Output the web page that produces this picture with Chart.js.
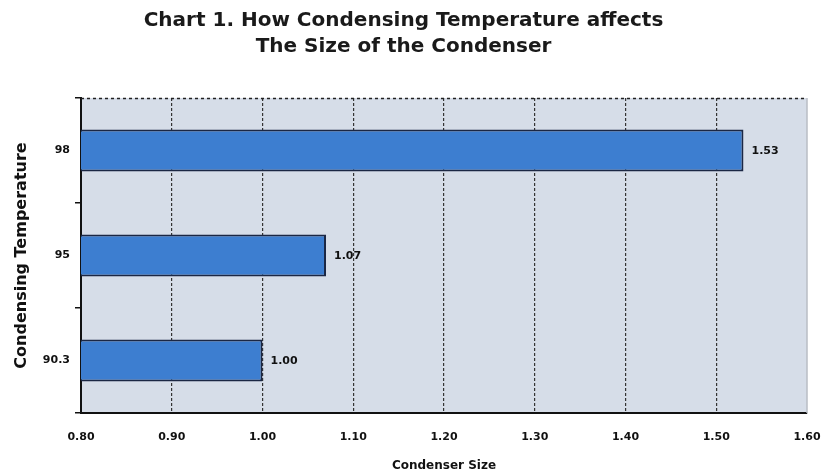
<!DOCTYPE html>
<html>
<head>
<meta charset="utf-8">
<script src="https://cdn.jsdelivr.net/npm/chart.js@4/dist/chart.umd.min.js"></script>
<style>
html,body{margin:0;padding:0;background:#fff;}
#wrap{width:826px;height:475px;position:relative;}
</style>
</head>
<body>
<div id="wrap"><canvas id="c" width="826" height="475"></canvas></div>
<script>
const categories = ['98', '95', '90.3'];
const condenserSize = [1.53, 1.07, 1.00];
const xTicks = [0.8, 0.9, 1.0, 1.1, 1.2, 1.3, 1.4, 1.5, 1.6];
const titleLines = ['Chart 1. How Condensing Temperature affects', 'The Size of the Condenser'];

const FONT = "'DejaVu Sans', 'Liberation Sans', Arial, sans-serif";

const plotBg = {
  id: 'plotBg',
  beforeDraw(chart) {
    const {ctx, chartArea: a} = chart;
    ctx.save();
    ctx.fillStyle = '#d6dde8';
    ctx.fillRect(a.left, a.top, a.right - a.left, a.bottom - a.top);
    ctx.restore();
  },
  afterDraw(chart) {
    const {ctx, chartArea: a} = chart;
    ctx.save();
    ctx.strokeStyle = '#222';
    ctx.lineWidth = 1.5;
    ctx.setLineDash([3, 3]);
    ctx.beginPath();
    ctx.moveTo(a.left, a.top + 0.5);
    ctx.lineTo(a.right, a.top + 0.5);
    ctx.stroke();
    ctx.setLineDash([]);
    ctx.strokeStyle = '#b8bcc4';
    ctx.lineWidth = 1.5;
    ctx.beginPath();
    ctx.moveTo(a.right, a.top);
    ctx.lineTo(a.right, a.bottom);
    ctx.stroke();
    ctx.restore();
  }
};

const valueLabels = {
  id: 'valueLabels',
  afterDatasetsDraw(chart) {
    const {ctx} = chart;
    const meta = chart.getDatasetMeta(0);
    ctx.save();
    ctx.font = 'bold 11px ' + FONT;
    ctx.fillStyle = '#111';
    ctx.textAlign = 'left';
    ctx.textBaseline = 'middle';
    meta.data.forEach((el, i) => {
      ctx.fillText(condenserSize[i].toFixed(2), el.x + 8, el.y + 1);
    });
    ctx.restore();
  }
};

new Chart(document.getElementById('c'), {
  type: 'bar',
  data: {
    labels: categories,
    datasets: [{
      data: condenserSize,
      backgroundColor: '#3d7ed0',
      borderColor: '#1b2744',
      borderWidth: 2,
      borderSkipped: 'left',
      categoryPercentage: 0.4,
      barPercentage: 1.0
    }]
  },
  options: {
    indexAxis: 'y',
    responsive: false,
    animation: false,
    devicePixelRatio: 1,
    layout: {padding: {left: 0, right: 19, top: 0, bottom: 0}},
    plugins: {
      legend: {display: false},
      tooltip: {enabled: false},
      title: {
        display: true,
        text: titleLines,
        color: '#1a1a1a',
        font: {family: FONT, size: 20, weight: 'bold', lineHeight: 1.3},
        padding: {top: 8, bottom: 38}
      }
    },
    scales: {
      x: {
        type: 'linear',
        min: 0.8,
        max: 1.6,
        afterBuildTicks(scale) { scale.ticks = xTicks.map(v => ({value: v})); },
        afterFit(scale) { scale.height = 62; scale.paddingLeft = 0; scale.paddingRight = 0; },
        ticks: {
          callback: v => Number(v).toFixed(2),
          color: '#111',
          font: {family: FONT, size: 11, weight: 'bold'},
          padding: 18,
          maxRotation: 0
        },
        grid: {
          drawTicks: false,
          color: (ctx) => (ctx.index === 0 || ctx.index === xTicks.length - 1 ? 'rgba(0,0,0,0)' : '#333'),
          lineWidth: 1.2
        },
        border: {display: true, color: '#111', width: 2, dash: [3, 2]},
        title: {
          display: true,
          text: 'Condenser Size',
          color: '#111',
          font: {family: FONT, size: 12, weight: 'bold'},
          padding: {top: 0, bottom: 2}
        }
      },
      y: {
        type: 'category',
        offset: true,
        afterFit(scale) { scale.width = 81; },
        ticks: {
          color: '#111',
          font: {family: FONT, size: 11, weight: 'bold'},
          padding: 5
        },
        grid: {
          drawOnChartArea: false,
          drawTicks: true,
          tickLength: 6,
          color: '#111',
          lineWidth: 1.5
        },
        border: {display: true, color: '#111', width: 2},
        title: {
          display: true,
          text: 'Condensing Temperature',
          color: '#111',
          font: {family: FONT, size: 16, weight: 'bold'},
          padding: {top: 12, bottom: 0}
        }
      }
    }
  },
  plugins: [plotBg, valueLabels]
});
</script>
</body>
</html>
